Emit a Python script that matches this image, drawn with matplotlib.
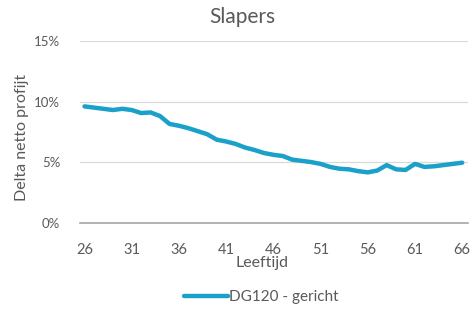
import matplotlib
matplotlib.use("Agg")
import matplotlib.pyplot as plt
from matplotlib.ticker import FuncFormatter

ages = list(range(26, 67))
values = [9.6, 9.5, 9.4, 9.3, 9.4, 9.3, 9.05, 9.1, 8.8, 8.15,
          8.0, 7.8, 7.55, 7.3, 6.85, 6.7, 6.5, 6.2, 6.0, 5.75,
          5.6, 5.5, 5.2, 5.1, 5.0, 4.85, 4.6, 4.45, 4.4, 4.25,
          4.15, 4.3, 4.75, 4.4, 4.35, 4.85, 4.6, 4.65, 4.75, 4.85,
          4.95]
xticks = [26, 31, 36, 41, 46, 51, 56, 61, 66]
yticks = [0, 5, 10, 15]
series_name = "DG120 - gericht"
title = "Slapers"
xlabel = "Leeftijd"
ylabel = "Delta netto profijt"

plt.rcParams['font.family'] = ['Lato', 'DejaVu Sans']
txt = '#595959'

fig = plt.figure(figsize=(4.75, 3.18), dpi=100)
ax = fig.add_axes([0.168, 0.30, 0.817, 0.571])
ax.plot(ages, values, color='#1ba1c9', lw=3.2, solid_capstyle='round', label=series_name)
ax.set_xlim(25.5, 66.6)
ax.set_ylim(0, 15)
ax.set_yticks(yticks)
ax.yaxis.set_major_formatter(FuncFormatter(lambda v, p: f"{int(v)}%"))
ax.set_xticks(xticks)
for s in ['top', 'right', 'left']:
    ax.spines[s].set_visible(False)
ax.spines['bottom'].set_color('#a6a6a6')
ax.spines['bottom'].set_linewidth(1.2)
ax.grid(axis='y', color='#d9d9d9', lw=0.9)
ax.set_axisbelow(True)
ax.tick_params(axis='both', length=0, colors=txt)
ax.tick_params(axis='x', pad=15, labelsize=10.5)
ax.tick_params(axis='y', pad=14, labelsize=9.5)
fig.text(0.51, 0.945, title, color=txt, fontsize=15, ha='center', va='center')
ax.set_xlabel(xlabel, color=txt, fontsize=11.5, labelpad=0)
ax.xaxis.set_label_coords(0.47, -0.185)
ax.set_ylabel(ylabel, color=txt, fontsize=11.5, labelpad=2)
ax.yaxis.set_label_coords(-0.13, 0.47)
fig.legend(loc='lower center', bbox_to_anchor=(0.55, 0.0), frameon=False,
           fontsize=11, labelcolor=txt, handlelength=2.9, handletextpad=0.1)
fig.savefig('out.png', dpi=100)
